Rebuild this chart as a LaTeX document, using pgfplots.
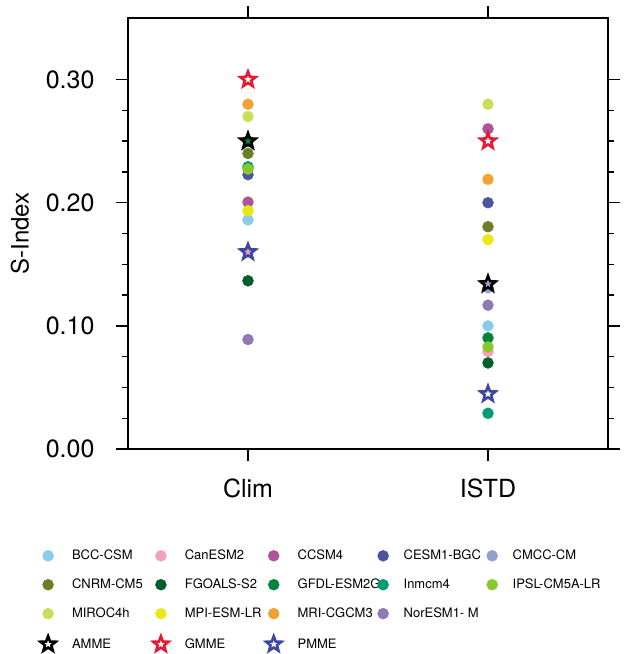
\documentclass[border=0pt]{standalone}
\usepackage{fontspec}
\setmainfont{TeX Gyre Heros}
\usepackage{pgfplots}
\pgfplotsset{compat=1.18}

\pgfdeclareplotmark{ostar}{%
  \pgfpathmoveto{\pgfpointpolar{90}{\pgfplotmarksize}}%
  \pgfpathlineto{\pgfpointpolar{126}{0.42\pgfplotmarksize}}%
  \pgfpathlineto{\pgfpointpolar{162}{\pgfplotmarksize}}%
  \pgfpathlineto{\pgfpointpolar{198}{0.42\pgfplotmarksize}}%
  \pgfpathlineto{\pgfpointpolar{234}{\pgfplotmarksize}}%
  \pgfpathlineto{\pgfpointpolar{270}{0.42\pgfplotmarksize}}%
  \pgfpathlineto{\pgfpointpolar{306}{\pgfplotmarksize}}%
  \pgfpathlineto{\pgfpointpolar{342}{0.42\pgfplotmarksize}}%
  \pgfpathlineto{\pgfpointpolar{18}{\pgfplotmarksize}}%
  \pgfpathlineto{\pgfpointpolar{54}{0.42\pgfplotmarksize}}%
  \pgfpathclose
  \pgfusepath{stroke}}

\definecolor{cBCC}{RGB}{137,204,236}
\definecolor{cCan}{RGB}{244,160,190}
\definecolor{cCCSM}{RGB}{176,84,152}
\definecolor{cCESM}{RGB}{77,84,160}
\definecolor{cCMCC}{RGB}{146,160,210}
\definecolor{cCNRM}{RGB}{107,128,38}
\definecolor{cFGO}{RGB}{0,94,42}
\definecolor{cGFDL}{RGB}{0,132,61}
\definecolor{cInm}{RGB}{0,155,115}
\definecolor{cIPSL}{RGB}{135,200,45}
\definecolor{cMIROC}{RGB}{197,224,90}
\definecolor{cMPI}{RGB}{232,232,20}
\definecolor{cMRI}{RGB}{240,163,50}
\definecolor{cNor}{RGB}{145,120,180}
\definecolor{cGMME}{RGB}{228,26,50}
\definecolor{cPMME}{RGB}{60,72,160}

\newcommand{\lt}[1]{\makebox[91pt][l]{\hspace{13pt}#1}}

\begin{document}
\begin{tikzpicture}
\useasboundingbox (-128pt,-205pt) rectangle (511pt,449pt);
\begin{axis}[
  at={(0pt,0pt)}, anchor=south west,
  scale only axis, width=480pt, height=431pt,
  xmin=-0.5, xmax=1.5, ymin=0, ymax=0.35,
  xtick={0,1}, xticklabels={Clim,ISTD},
  ytick={0,0.1,0.2,0.3}, minor y tick num=3,
  yticklabel style={xshift=-18pt, /pgf/number format/.cd, fixed, fixed zerofill, precision=2, assume math mode=true},
  xticklabel style={yshift=-14pt},
  tick label style={font=\fontsize{25}{29}\selectfont},
  label style={font=\fontsize{24}{28}\selectfont},
  ylabel={S-Index},
  ylabel style={yshift=10pt},
  tick align=outside,
  major tick length=12pt, minor tick length=6pt,
  tick style={line width=1.4pt, black},
  axis line style={line width=1.6pt},
  legend columns=5,
  legend style={at={(rel axis cs:0,0)}, anchor=north west, xshift=-92pt, yshift=-97pt,
    draw=none, fill=none, font=\fontsize{13}{15}\selectfont, row sep=13.7pt,
    cells={anchor=west}},
  only marks,
]
\addplot[mark=*, mark size=5.5pt, color=cBCC] coordinates {(0,0.186) (1,0.100)}; \addlegendentry{\lt{BCC-CSM}}
\addplot[mark=*, mark size=5.5pt, color=cCan] coordinates {(0,0.160) (1,0.0791)}; \addlegendentry{\lt{CanESM2}}
\addplot[mark=*, mark size=5.5pt, color=cCCSM] coordinates {(0,0.2005) (1,0.260)}; \addlegendentry{\lt{CCSM4}}
\addplot[mark=*, mark size=5.5pt, color=cCESM] coordinates {(0,0.2228) (1,0.200)}; \addlegendentry{\lt{CESM1-BGC}}
\addplot[mark=*, mark size=5.5pt, color=cCMCC] coordinates {(0,0.2274) (1,0.131)}; \addlegendentry{\lt{CMCC-CM}}
\addplot[mark=*, mark size=5.5pt, color=cCNRM] coordinates {(0,0.240) (1,0.1805)}; \addlegendentry{\lt{CNRM-CM5}}
\addplot[mark=*, mark size=5.5pt, color=cFGO] coordinates {(0,0.1366) (1,0.0699)}; \addlegendentry{\lt{FGOALS-S2}}
\addplot[mark=*, mark size=5.5pt, color=cGFDL] coordinates {(0,0.250) (1,0.0902)}; \addlegendentry{\lt{GFDL-ESM2G}}
\addplot[mark=*, mark size=5.5pt, color=cInm] coordinates {(0,0.2292) (1,0.029)}; \addlegendentry{\lt{Inmcm4}}
\addplot[mark=*, mark size=5.5pt, color=cIPSL] coordinates {(0,0.2274) (1,0.0829)}; \addlegendentry{\lt{IPSL-CM5A-LR}}
\addplot[mark=*, mark size=5.5pt, color=cMIROC] coordinates {(0,0.270) (1,0.280)}; \addlegendentry{\lt{MIROC4h}}
\addplot[mark=*, mark size=5.5pt, color=cMPI] coordinates {(0,0.1935) (1,0.170)}; \addlegendentry{\lt{MPI-ESM-LR}}
\addplot[mark=*, mark size=5.5pt, color=cMRI] coordinates {(0,0.280) (1,0.219)}; \addlegendentry{\lt{MRI-CGCM3}}
\addplot[mark=*, mark size=5.5pt, color=cNor] coordinates {(0,0.0889) (1,0.1168)}; \addlegendentry{\lt{NorESM1- M}}
\addlegendimage{empty legend}\addlegendentry{}
\addplot[mark=ostar, mark size=8pt, color=black, line width=2.6pt] coordinates {(0,0.250) (1,0.134)}; \addlegendentry{\lt{AMME}}
\addplot[mark=ostar, mark size=8pt, color=cGMME, line width=2.6pt] coordinates {(0,0.300) (1,0.250)}; \addlegendentry{\lt{GMME}}
\addplot[mark=ostar, mark size=8pt, color=cPMME, line width=2.6pt] coordinates {(0,0.160) (1,0.0447)}; \addlegendentry{\lt{PMME}}
\end{axis}
\end{tikzpicture}
\end{document}
